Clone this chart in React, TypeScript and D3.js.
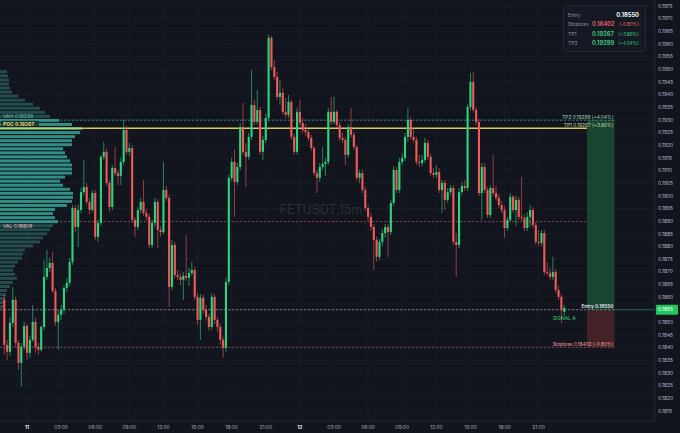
import React from 'react';
import * as d3 from 'd3';

const W = 680;
const H = 433;
const plotRight = 655;
const plotBottom = 421;

const symbol = 'FETUSDT,15m';
const firstCandle = new Date(2025, 0, 10, 22, 0);
const candleMinutes = 15;

// [open, high, low, close]
const candles: number[][] = [
  [0.18589, 0.18609, 0.18372, 0.18411], [0.18411, 0.18431, 0.18352, 0.18384], [0.18384, 0.18522, 0.18368, 0.18498],
  [0.18498, 0.18640, 0.18482, 0.18589], [0.18589, 0.18601, 0.18400, 0.18419], [0.18419, 0.18431, 0.18313, 0.18340],
  [0.18340, 0.18419, 0.18246, 0.18404], [0.18404, 0.18502, 0.18392, 0.18486], [0.18486, 0.18494, 0.18352, 0.18380],
  [0.18380, 0.18447, 0.18360, 0.18431], [0.18431, 0.18569, 0.18423, 0.18502], [0.18502, 0.18518, 0.18380, 0.18404],
  [0.18404, 0.18419, 0.18372, 0.18392], [0.18392, 0.18490, 0.18384, 0.18482], [0.18482, 0.18747, 0.18471, 0.18680],
  [0.18680, 0.18786, 0.18668, 0.18715], [0.18715, 0.18755, 0.18699, 0.18735], [0.18735, 0.18778, 0.18616, 0.18624],
  [0.18624, 0.18636, 0.18486, 0.18502], [0.18502, 0.18550, 0.18392, 0.18530], [0.18530, 0.18569, 0.18510, 0.18550],
  [0.18550, 0.18648, 0.18534, 0.18636], [0.18636, 0.18676, 0.18620, 0.18656], [0.18656, 0.18755, 0.18644, 0.18739],
  [0.18739, 0.18964, 0.18727, 0.18952], [0.18952, 0.18964, 0.18857, 0.18877], [0.18877, 0.18964, 0.18798, 0.18944],
  [0.18944, 0.19031, 0.18932, 0.19015], [0.19015, 0.19142, 0.19003, 0.19035], [0.19035, 0.19051, 0.18964, 0.18976],
  [0.18976, 0.18992, 0.18928, 0.18944], [0.18944, 0.19023, 0.18936, 0.19011], [0.19011, 0.19023, 0.18826, 0.18838],
  [0.18838, 0.18905, 0.18818, 0.18893], [0.18893, 0.19162, 0.18881, 0.19154], [0.19154, 0.19213, 0.19142, 0.19174],
  [0.19174, 0.19185, 0.19039, 0.19051], [0.19051, 0.19063, 0.18936, 0.18956], [0.18956, 0.19122, 0.18944, 0.19110],
  [0.19110, 0.19193, 0.19079, 0.19090], [0.19090, 0.19102, 0.19043, 0.19079], [0.19079, 0.19150, 0.19043, 0.19134],
  [0.19134, 0.19300, 0.19122, 0.19260], [0.19260, 0.19276, 0.19162, 0.19174], [0.19174, 0.19209, 0.19158, 0.19189],
  [0.19189, 0.19201, 0.18893, 0.18905], [0.18905, 0.18917, 0.18838, 0.18877], [0.18877, 0.18956, 0.18865, 0.18944],
  [0.18944, 0.18992, 0.18932, 0.18976], [0.18976, 0.19063, 0.18921, 0.18932], [0.18932, 0.18948, 0.18905, 0.18917],
  [0.18917, 0.18928, 0.18794, 0.18806], [0.18806, 0.18905, 0.18794, 0.18893], [0.18893, 0.18992, 0.18877, 0.18976],
  [0.18976, 0.18988, 0.18794, 0.18865], [0.18865, 0.18881, 0.18838, 0.18857], [0.18857, 0.19134, 0.18849, 0.19023],
  [0.19023, 0.19039, 0.18980, 0.18992], [0.18992, 0.19003, 0.18561, 0.18640], [0.18640, 0.18826, 0.18628, 0.18806],
  [0.18806, 0.18818, 0.18676, 0.18687], [0.18687, 0.18707, 0.18668, 0.18680], [0.18680, 0.18695, 0.18648, 0.18668],
  [0.18668, 0.18699, 0.18589, 0.18684], [0.18684, 0.18845, 0.18664, 0.18676], [0.18676, 0.18715, 0.18644, 0.18695],
  [0.18695, 0.18739, 0.18684, 0.18707], [0.18707, 0.18719, 0.18589, 0.18601], [0.18601, 0.18616, 0.18490, 0.18510],
  [0.18510, 0.18612, 0.18431, 0.18597], [0.18597, 0.18609, 0.18534, 0.18550], [0.18550, 0.18569, 0.18506, 0.18522],
  [0.18522, 0.18534, 0.18467, 0.18482], [0.18482, 0.18616, 0.18471, 0.18601], [0.18601, 0.18612, 0.18494, 0.18510],
  [0.18510, 0.18522, 0.18463, 0.18482], [0.18482, 0.18494, 0.18411, 0.18431], [0.18431, 0.18443, 0.18360, 0.18400],
  [0.18400, 0.18676, 0.18384, 0.18660], [0.18660, 0.19083, 0.18648, 0.19071], [0.19071, 0.19150, 0.19059, 0.19134],
  [0.19134, 0.19182, 0.18917, 0.19055], [0.19055, 0.19130, 0.19043, 0.19114], [0.19114, 0.19288, 0.19102, 0.19272],
  [0.19272, 0.19367, 0.19162, 0.19174], [0.19174, 0.19209, 0.19035, 0.19154], [0.19154, 0.19249, 0.19142, 0.19233],
  [0.19233, 0.19497, 0.19221, 0.19359], [0.19359, 0.19379, 0.19280, 0.19292], [0.19292, 0.19418, 0.19280, 0.19339],
  [0.19339, 0.19351, 0.19162, 0.19174], [0.19174, 0.19237, 0.19142, 0.19221], [0.19221, 0.19324, 0.19209, 0.19308],
  [0.19308, 0.19636, 0.19296, 0.19624], [0.19624, 0.19632, 0.19497, 0.19509], [0.19509, 0.19537, 0.19458, 0.19470],
  [0.19470, 0.19490, 0.19379, 0.19391], [0.19391, 0.19458, 0.19359, 0.19407], [0.19407, 0.19426, 0.19320, 0.19332],
  [0.19332, 0.19387, 0.19308, 0.19320], [0.19320, 0.19399, 0.19308, 0.19371], [0.19371, 0.19379, 0.19221, 0.19233],
  [0.19233, 0.19245, 0.19162, 0.19174], [0.19174, 0.19347, 0.19162, 0.19332], [0.19332, 0.19379, 0.19276, 0.19288],
  [0.19288, 0.19308, 0.19249, 0.19260], [0.19260, 0.19284, 0.19237, 0.19252], [0.19252, 0.19268, 0.19217, 0.19229],
  [0.19229, 0.19241, 0.19178, 0.19189], [0.19189, 0.19197, 0.19079, 0.19090], [0.19090, 0.19102, 0.19011, 0.19071],
  [0.19071, 0.19130, 0.19055, 0.19114], [0.19114, 0.19193, 0.19102, 0.19126], [0.19126, 0.19150, 0.19079, 0.19134],
  [0.19134, 0.19347, 0.19122, 0.19332], [0.19332, 0.19391, 0.19280, 0.19292], [0.19292, 0.19391, 0.19284, 0.19332],
  [0.19332, 0.19339, 0.19268, 0.19280], [0.19280, 0.19292, 0.19217, 0.19229], [0.19229, 0.19249, 0.19209, 0.19221],
  [0.19221, 0.19233, 0.19122, 0.19162], [0.19162, 0.19284, 0.19150, 0.19272], [0.19272, 0.19347, 0.19229, 0.19241],
  [0.19241, 0.19252, 0.19182, 0.19193], [0.19193, 0.19201, 0.19059, 0.19071], [0.19071, 0.19102, 0.19051, 0.19090],
  [0.19090, 0.19102, 0.19011, 0.19023], [0.19023, 0.19035, 0.18940, 0.18952], [0.18952, 0.18964, 0.18901, 0.18917],
  [0.18917, 0.18932, 0.18861, 0.18877], [0.18877, 0.18889, 0.18707, 0.18826], [0.18826, 0.18838, 0.18739, 0.18759],
  [0.18759, 0.18830, 0.18747, 0.18818], [0.18818, 0.18869, 0.18802, 0.18853], [0.18853, 0.18889, 0.18834, 0.18877],
  [0.18877, 0.18889, 0.18759, 0.18857], [0.18857, 0.18984, 0.18845, 0.18972], [0.18972, 0.19118, 0.18960, 0.19102],
  [0.19102, 0.19114, 0.19011, 0.19023], [0.19023, 0.19150, 0.19011, 0.19134], [0.19134, 0.19170, 0.19122, 0.19150],
  [0.19150, 0.19249, 0.19138, 0.19233], [0.19233, 0.19347, 0.19213, 0.19300], [0.19300, 0.19312, 0.19221, 0.19233],
  [0.19233, 0.19268, 0.19209, 0.19221], [0.19221, 0.19233, 0.19122, 0.19134], [0.19134, 0.19162, 0.19114, 0.19130],
  [0.19130, 0.19162, 0.19118, 0.19142], [0.19142, 0.19229, 0.19130, 0.19209], [0.19209, 0.19221, 0.19142, 0.19154],
  [0.19154, 0.19166, 0.19079, 0.19090], [0.19090, 0.19110, 0.19071, 0.19083], [0.19083, 0.19122, 0.19071, 0.19094],
  [0.19094, 0.19110, 0.19011, 0.19023], [0.19023, 0.19063, 0.18932, 0.19051], [0.19051, 0.19063, 0.18944, 0.18984],
  [0.18984, 0.19031, 0.18972, 0.19015], [0.19015, 0.19043, 0.19003, 0.19031], [0.19031, 0.19043, 0.18806, 0.18818],
  [0.18818, 0.18853, 0.18680, 0.18806], [0.18806, 0.19031, 0.18794, 0.19015], [0.19015, 0.19055, 0.19003, 0.19039],
  [0.19039, 0.19063, 0.19019, 0.19031], [0.19031, 0.19363, 0.19019, 0.19351], [0.19351, 0.19486, 0.19339, 0.19450],
  [0.19450, 0.19490, 0.19328, 0.19339], [0.19339, 0.19351, 0.19280, 0.19292], [0.19292, 0.19304, 0.18999, 0.19011],
  [0.19011, 0.19130, 0.18905, 0.19114], [0.19114, 0.19130, 0.19011, 0.19023], [0.19023, 0.19035, 0.18913, 0.18924],
  [0.18924, 0.19043, 0.18913, 0.19031], [0.19031, 0.19162, 0.18999, 0.19011], [0.19011, 0.19039, 0.18980, 0.18992],
  [0.18992, 0.19007, 0.18952, 0.18964], [0.18964, 0.18980, 0.18932, 0.18944], [0.18944, 0.18960, 0.18834, 0.18873],
  [0.18873, 0.18917, 0.18861, 0.18905], [0.18905, 0.19011, 0.18897, 0.18996], [0.18996, 0.19003, 0.18932, 0.18944],
  [0.18944, 0.18999, 0.18881, 0.18984], [0.18984, 0.18996, 0.18905, 0.18917], [0.18917, 0.19075, 0.18901, 0.18913],
  [0.18913, 0.18928, 0.18861, 0.18873], [0.18873, 0.18936, 0.18861, 0.18917], [0.18917, 0.18964, 0.18877, 0.18944],
  [0.18944, 0.18956, 0.18873, 0.18885], [0.18885, 0.18897, 0.18806, 0.18818], [0.18818, 0.18865, 0.18802, 0.18814],
  [0.18814, 0.18865, 0.18802, 0.18853], [0.18853, 0.18865, 0.18687, 0.18699], [0.18699, 0.18739, 0.18684, 0.18695],
  [0.18695, 0.18715, 0.18668, 0.18680], [0.18680, 0.18759, 0.18668, 0.18699], [0.18699, 0.18711, 0.18616, 0.18628],
  [0.18628, 0.18644, 0.18589, 0.18601], [0.18601, 0.18612, 0.18498, 0.18550], [0.18542, 0.18569, 0.18526, 0.18557],
];

// trade setup
const entryPrice = 0.1855;
const stopPrice = 0.18402;
const tp1Price = 0.19267;
const tp2Price = 0.19299;
const stopPct = '(-0.80%)';
const tp1Pct = '(+3.86%)';
const tp2Pct = '(+4.04%)';
const setupStart = new Date(2025, 0, 13, 1, 15);
const setupEnd = new Date(2025, 0, 13, 3, 40);

// volume profile
const pocPrice = 0.19267;
const vahPrice = 0.19299;
const valLinePrice = 0.18898;
const valLabelPrice = 0.18806;
const profileTop = 0.1949;
const profileStep = 0.00016;
const profileVolume = [
  7, 8, 9, 9, 10, 12, 18, 25, 33, 40, 45, 50, 59, 72, 82, 80, 75, 72, 72, 63,
  65, 67, 70, 72, 72, 72, 65, 60, 63, 70, 73, 73, 72, 67, 55, 53, 55, 58, 53, 50,
  47, 43, 40, 33, 25, 23, 22, 18, 15, 13, 15, 17, 13, 10, 7, 6, 5, 4, 3,
];
const vahIndex = 12;
const valIndex = 37;

const priceDomain = [0.1815, 0.1975];
const timeDomain = [new Date(2025, 0, 10, 21, 37, 30), new Date(2025, 0, 13, 7, 14)];

const bg = '#12151e';
const grid = '#1d212c';
const up = '#2bd47d';
const down = '#ef5a5a';
const font = 'Inter, Roboto, "Noto Sans", sans-serif';

export default function App() {
  const x = d3.scaleTime().domain(timeDomain).range([0, plotRight]);
  const y = d3.scaleLinear().domain(priceDomain).range([411, 6]);
  const vol = d3.scaleLinear().domain([0, d3.max(profileVolume) as number]).range([0, 82]);

  const times = candles.map((_, i) => d3.timeMinute.offset(firstCandle, i * candleMinutes));
  const lastTime = times[times.length - 1];
  const timeTicks = d3.timeHour.every(3)!.range(timeDomain[0], lastTime);
  const priceTicks = y.ticks(32);
  const fmtHour = d3.timeFormat('%H:%M');
  const bodyW = 2.1;
  const rowH = Math.abs(y(0) - y(profileStep)) * 0.72;

  const xs = x(setupStart);
  const xe = x(setupEnd);

  return (
    <div style={{ position: 'absolute', left: 0, top: 0 }}>
      <svg width={W} height={H} style={{ display: 'block', fontFamily: font }}>
        <rect width={W} height={H} fill={bg} />
        <clipPath id="plot">
          <rect x={0} y={0} width={plotRight} height={plotBottom} />
        </clipPath>

        {/* grid */}
        <g>
          {priceTicks.map((p) => (
            <line key={'h' + p} x1={0} x2={plotRight} y1={y(p)} y2={y(p)} stroke={grid} strokeWidth={0.6} />
          ))}
          {timeTicks.map((t) => (
            <line key={'v' + t.getTime()} x1={x(t)} x2={x(t)} y1={0} y2={plotBottom} stroke={grid} strokeWidth={0.6} />
          ))}
        </g>

        <text x={321} y={214} textAnchor="middle" fontSize={12.5} fill="#2a2f3b">
          {symbol}
        </text>

        <g clipPath="url(#plot)">
          {/* setup boxes */}
          <rect x={xs} y={y(tp2Price)} width={xe - xs} height={y(entryPrice) - y(tp2Price)} fill="#1a4d33" fillOpacity={0.85} />
          <rect x={xs} y={y(entryPrice)} width={xe - xs} height={y(stopPrice) - y(entryPrice)} fill="#482328" fillOpacity={0.9} />

          {/* level lines under the profile */}
          <line x1={0} x2={xe} y1={y(vahPrice)} y2={y(vahPrice)} stroke="#5fb8a8" strokeOpacity={0.75} strokeWidth={0.8} strokeDasharray="2.5,1.5" />
          <line x1={0} x2={xs} y1={y(valLinePrice)} y2={y(valLinePrice)} stroke="#b0555c" strokeOpacity={0.8} strokeWidth={0.8} strokeDasharray="2.5,1.5" />
          <line x1={0} x2={xe} y1={y(entryPrice)} y2={y(entryPrice)} stroke="#a4a9b3" strokeOpacity={0.8} strokeWidth={0.8} strokeDasharray="2.5,1.5" />
          <line x1={xe} x2={plotRight} y1={y(entryPrice)} y2={y(entryPrice)} stroke="#2f7a52" strokeWidth={0.8} />
          <line x1={0} x2={xe} y1={y(stopPrice)} y2={y(stopPrice)} stroke="#b9555c" strokeOpacity={0.8} strokeWidth={0.8} strokeDasharray="2.5,1.5" />

          {/* volume profile */}
          {profileVolume.map((v, i) => {
            const p = profileTop - i * profileStep;
            const inside = i >= vahIndex && i <= valIndex;
            return (
              <rect
                key={'pv' + i}
                x={0}
                y={y(p) - rowH / 2}
                width={vol(v)}
                height={rowH}
                fill={inside ? '#35a597' : '#2c6562'}
                fillOpacity={inside ? 0.85 : 0.7}
              />
            );
          })}

          <line x1={0} x2={xs} y1={y(pocPrice)} y2={y(pocPrice)} stroke="#d6c95c" strokeWidth={1.3} />

          {/* candles */}
          {candles.map(([o, h, l, c], i) => {
            const cx = x(times[i]);
            const col = c >= o ? up : down;
            const top = y(Math.max(o, c));
            const bh = Math.max(0.8, Math.abs(y(o) - y(c)));
            return (
              <g key={'c' + i}>
                <line x1={cx} x2={cx} y1={y(h)} y2={y(l)} stroke={col} strokeWidth={0.6} />
                <rect x={cx - bodyW / 2} y={top} width={bodyW} height={bh} fill={col} />
              </g>
            );
          })}
        </g>

        {/* profile labels */}
        <text x={3} y={y(vahPrice) - 2} fontSize={5} fill="#5cc2b0">{`VAH  ${vahPrice.toFixed(5)}`}</text>
        <rect x={1} y={y(pocPrice) - 7.5} width={38} height={6} fill="#1a2a2a" fillOpacity={0.8} />
        <text x={3} y={y(pocPrice) - 2.5} fontSize={5} fontWeight={700} fill="#e2d36a">{`POC  ${pocPrice.toFixed(5)}`}</text>
        <text x={3} y={y(valLinePrice) + 6} fontSize={5} fill="#e9c0c0">{`VAL  ${valLabelPrice.toFixed(5)}`}</text>

        {/* setup labels */}
        <text x={xe - 1} y={y(tp2Price) - 1.5} fontSize={4.8} textAnchor="end" fill="#9fd9b5">{`TP2 ${tp2Price.toFixed(5)} ${tp2Pct}`}</text>
        <text x={xe - 1} y={y(tp1Price) - 1} fontSize={4.8} textAnchor="end" fill="#c4dca0">{`TP1 ${tp1Price.toFixed(5)} ${tp1Pct}`}</text>
        <text x={xe - 1} y={y(entryPrice) - 1.5} fontSize={4.8} fontWeight={600} textAnchor="end" fill="#e8eaee">{`Entry ${entryPrice.toFixed(5)}`}</text>
        <text x={xe - 1} y={y(stopPrice) - 1.5} fontSize={4.8} textAnchor="end" fill="#f0a0a4">{`Stoploss ${stopPrice.toFixed(5)} ${stopPct}`}</text>
        <text x={x(lastTime)} y={y(entryPrice) + 10} fontSize={5} textAnchor="middle" fill={up}>SIGNAL A</text>

        {/* info panel */}
        <g>
          <rect x={563.5} y={5.5} width={82} height={46} rx={3} fill="#151923" stroke="#2a2f3b" strokeWidth={0.8} />
          {[
            { k: 'Entry', v: entryPrice, pct: '', col: '#f2f3f5' },
            { k: 'Stoploss', v: stopPrice, pct: stopPct, col: '#f0676b' },
            { k: 'TP1', v: tp1Price, pct: tp1Pct, col: '#37d683' },
            { k: 'TP2', v: tp2Price, pct: tp2Pct, col: '#37d683' },
          ].map((r, i) => (
            <g key={r.k} fontSize={5}>
              <text x={568} y={16.5 + i * 9.5} fill="#8d93a0">{r.k}</text>
              {r.pct ? (
                <>
                  <text x={592} y={16.5 + i * 9.5} fontSize={5.8} fontWeight={600} fill={r.col}>{r.v.toFixed(5)}</text>
                  <text x={639} y={16.5 + i * 9.5} textAnchor="end" fontSize={4.6} fill={r.col}>{r.pct}</text>
                </>
              ) : (
                <text x={639} y={16.5 + i * 9.5} textAnchor="end" fontSize={5.8} fontWeight={700} fill={r.col}>{r.v.toFixed(5)}</text>
              )}
            </g>
          ))}
        </g>

        {/* axes */}
        <line x1={plotRight} x2={plotRight} y1={0} y2={plotBottom} stroke="#2a2e39" strokeWidth={0.8} />
        <line x1={0} x2={plotRight} y1={plotBottom} y2={plotBottom} stroke="#2a2e39" strokeWidth={0.8} />
        {priceTicks.map((p) => (
          <text key={'pt' + p} x={658} y={y(p)} dy="0.35em" fontSize={4.9} fill="#b4b8c2">
            {p.toFixed(4)}
          </text>
        ))}
        <rect x={656} y={y(entryPrice) - 5} width={22} height={10} rx={1} fill="#22c55e" />
        <text x={658} y={y(entryPrice)} dy="0.35em" fontSize={4.9} fill="#ffffff">
          {entryPrice.toFixed(4)}
        </text>
        {timeTicks.map((t) => {
          const day = t.getHours() === 0;
          return (
            <text
              key={'tt' + t.getTime()}
              x={x(t)}
              y={428.5}
              textAnchor="middle"
              fontSize={4.9}
              fontWeight={day ? 700 : 400}
              fill={day ? '#e8eaef' : '#a3a8b3'}
            >
              {day ? String(t.getDate()) : fmtHour(t)}
            </text>
          );
        })}
      </svg>
    </div>
  );
}
